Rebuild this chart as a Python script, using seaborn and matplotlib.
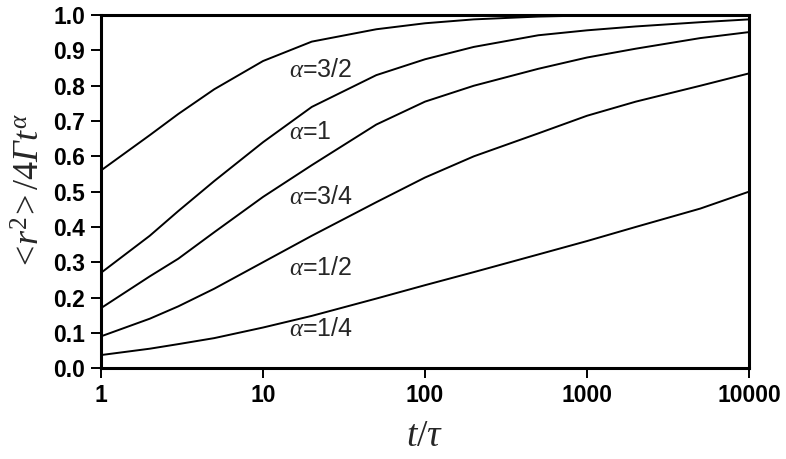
import matplotlib
matplotlib.use("Agg")
import matplotlib.pyplot as plt
import numpy as np
import pandas as pd
import seaborn as sns

# time points t/tau
t_values = [1, 2, 3, 5, 10, 20, 50, 100, 200, 500, 1000, 2000, 5000, 10000]

# <r^2>/4 Gamma t^alpha for each exponent
alpha_3_2 = [0.56, 0.66, 0.72, 0.79, 0.87, 0.925, 0.96, 0.977, 0.988, 0.996, 0.999, 1.0, 1.0, 1.0]
alpha_1 = [0.27, 0.375, 0.445, 0.53, 0.64, 0.74, 0.83, 0.875, 0.91, 0.943, 0.957, 0.968, 0.98, 0.988]
alpha_3_4 = [0.17, 0.26, 0.31, 0.385, 0.485, 0.575, 0.69, 0.755, 0.80, 0.848, 0.88, 0.905, 0.935, 0.952]
alpha_1_2 = [0.09, 0.14, 0.175, 0.225, 0.30, 0.375, 0.47, 0.54, 0.60, 0.665, 0.715, 0.755, 0.80, 0.835]
alpha_1_4 = [0.037, 0.055, 0.068, 0.085, 0.115, 0.148, 0.197, 0.235, 0.272, 0.322, 0.36, 0.40, 0.452, 0.50]

series_names = ["3/2", "1", "3/4", "1/2", "1/4"]
label_y = [0.845, 0.67, 0.485, 0.285, 0.11]
label_t = 14.5

y_ticks = [0.0, 0.1, 0.2, 0.3, 0.4, 0.5, 0.6, 0.7, 0.8, 0.9, 1.0]
x_ticks = [1, 10, 100, 1000, 10000]

df = pd.DataFrame({
    "t": t_values * 5,
    "value": alpha_3_2 + alpha_1 + alpha_3_4 + alpha_1_2 + alpha_1_4,
    "alpha": sum([[name] * len(t_values) for name in series_names], []),
})

sns.set_style("ticks")
plt.rcParams["font.family"] = ["Liberation Sans", "DejaVu Sans"]
plt.rcParams["mathtext.fontset"] = "custom"
plt.rcParams["mathtext.rm"] = "Liberation Serif"
plt.rcParams["mathtext.it"] = "Liberation Serif:italic"
plt.rcParams["mathtext.cal"] = "Liberation Serif:italic"

fig = plt.figure(figsize=(7.86, 4.59), dpi=100)
ax = fig.add_axes([0.1285, 0.198, 0.8245, 0.769])

sns.lineplot(data=df, x="t", y="value", hue="alpha", palette=["black"] * 5,
             linewidth=1.4, legend=False, ax=ax)

ax.set_xscale("log")
ax.set_xlim(1, 10000)
ax.set_ylim(0, 1.0)
ax.set_xticks(x_ticks)
ax.set_xticklabels([str(v) for v in x_ticks])
ax.xaxis.set_minor_locator(matplotlib.ticker.NullLocator())
ax.set_yticks(y_ticks)
ax.set_yticklabels([f"{v:.1f}" for v in y_ticks])

for name, y in zip(series_names, label_y):
    ax.text(label_t, y, r"$\alpha$" + "=" + name, fontsize=18, va="center", ha="left")

for side in ["left", "right", "top", "bottom"]:
    ax.spines[side].set_linewidth(2.2)
    ax.spines[side].set_color("black")

ax.tick_params(axis="both", direction="out", length=7.5, width=1.4, colors="black",
               labelsize=16.5, pad=4)
for lab in ax.get_xticklabels() + ax.get_yticklabels():
    lab.set_fontweight("bold")

ax.set_xlabel(r"$t/\tau$", fontsize=27, labelpad=8)
ax.set_ylabel(r"$<\!r^{2}\!>/4\mathcal{\Gamma}t^{\alpha}$", fontsize=26, labelpad=4)

fig.savefig("out.png", dpi=100)
plt.close(fig)
